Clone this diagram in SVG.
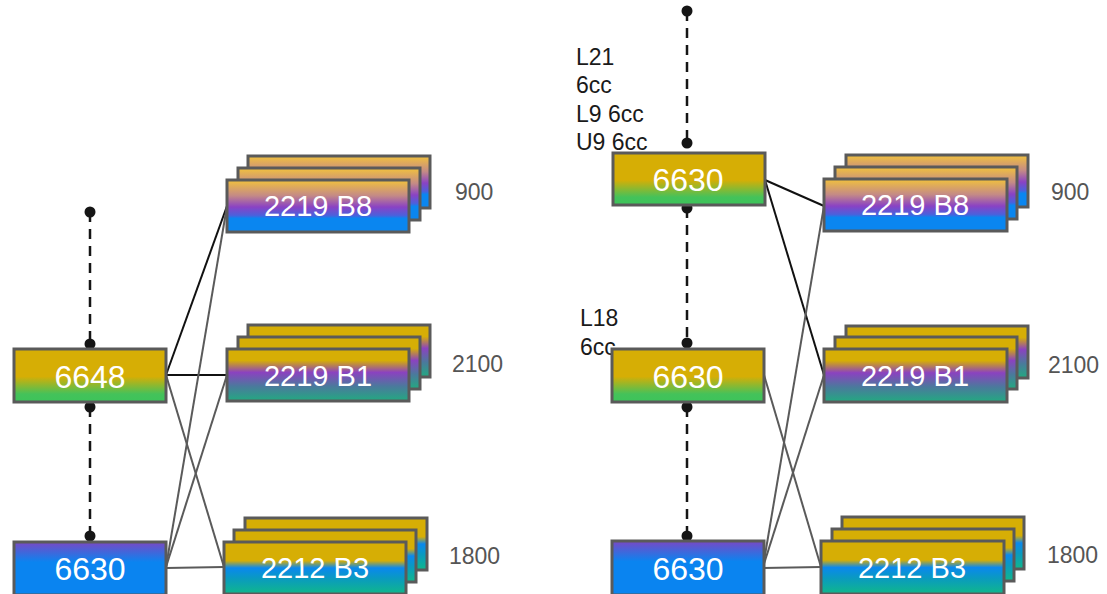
<svg xmlns="http://www.w3.org/2000/svg" width="1107" height="594" viewBox="0 0 1107 594">
<style>
.box{stroke:#5a5a5a;stroke-width:3}
.big{font-family:"Liberation Sans",Arial,sans-serif;font-size:32px;fill:#fff;text-anchor:middle}
.lbl{font-family:"Liberation Sans",Arial,sans-serif;font-size:29px;fill:#fff;text-anchor:middle}
.side{font-family:"Liberation Sans",Arial,sans-serif;font-size:23px;fill:#555}
.note{font-family:"Liberation Sans",Arial,sans-serif;font-size:23px;fill:#1a1a1a}
.dash{stroke:#151515;stroke-width:2.5;stroke-dasharray:10 7;fill:none}
.dot{fill:#151515}
.k{stroke:#111;stroke-width:2;fill:none}
.g{stroke:#5a5a5a;stroke-width:2;fill:none}
</style>
<defs>
<linearGradient id="gGold" x1="0" y1="0" x2="0" y2="1">
<stop offset="0" stop-color="#d6ae05"/><stop offset="0.52" stop-color="#d6ae05"/><stop offset="0.85" stop-color="#44c25a"/><stop offset="1" stop-color="#3cc45a"/>
</linearGradient>
<linearGradient id="gPurple" x1="0" y1="0" x2="0" y2="1">
<stop offset="0" stop-color="#7a48c4"/><stop offset="0.38" stop-color="#0a84f0"/><stop offset="1" stop-color="#0a84f0"/>
</linearGradient>
<linearGradient id="gB8" x1="0" y1="0" x2="0" y2="1">
<stop offset="0" stop-color="#f2c23c"/><stop offset="0.3" stop-color="#c48a86"/><stop offset="0.52" stop-color="#8a42c4"/><stop offset="0.68" stop-color="#4c60dc"/><stop offset="0.74" stop-color="#0a86f0"/><stop offset="1" stop-color="#0a86f0"/>
</linearGradient>
<linearGradient id="gB1" x1="0" y1="0" x2="0" y2="1">
<stop offset="0" stop-color="#d6ae05"/><stop offset="0.22" stop-color="#d6ae05"/><stop offset="0.45" stop-color="#8b42c0"/><stop offset="0.72" stop-color="#4a7a9c"/><stop offset="1" stop-color="#22aa80"/>
</linearGradient>
<linearGradient id="gB3" x1="0" y1="0" x2="0" y2="1">
<stop offset="0" stop-color="#d6ae05"/><stop offset="0.36" stop-color="#d6ae05"/><stop offset="0.5" stop-color="#0a88ee"/><stop offset="0.7" stop-color="#0a9ac0"/><stop offset="1" stop-color="#10b88a"/>
</linearGradient>
</defs>
<rect width="1107" height="594" fill="#fff"/>

<g id="notes">
<text class="note" x="576" y="65">L21</text>
<text class="note" x="576" y="93">6cc</text>
<text class="note" x="576" y="122">L9 6cc</text>
<text class="note" x="576" y="150">U9 6cc</text>
<text class="note" x="580" y="326">L18</text>
<text class="note" x="580" y="355">6cc</text>
</g>

<g id="connectors">
<line class="dash" x1="90" y1="212" x2="90" y2="344"/>
<circle class="dot" cx="90" cy="212" r="5.5"/><circle class="dot" cx="90" cy="344" r="5.5"/>
<line class="dash" x1="90" y1="407" x2="90" y2="536"/>
<circle class="dot" cx="90" cy="407" r="5.5"/><circle class="dot" cx="90" cy="536" r="5.5"/>
<line class="dash" x1="687" y1="11" x2="687" y2="143"/>
<circle class="dot" cx="687" cy="11" r="5.5"/><circle class="dot" cx="687" cy="143" r="5.5"/>
<line class="dash" x1="687" y1="208" x2="687" y2="343"/>
<circle class="dot" cx="687" cy="208" r="5.5"/><circle class="dot" cx="687" cy="343" r="5.5"/>
<line class="dash" x1="687" y1="407" x2="687" y2="536"/>
<circle class="dot" cx="687" cy="407" r="5.5"/><circle class="dot" cx="687" cy="536" r="5.5"/>

<line class="k" x1="166" y1="375" x2="227" y2="206"/>
<line class="k" x1="166" y1="375" x2="227" y2="375"/>
<line class="g" x1="166" y1="375" x2="224" y2="567"/>
<line class="g" x1="166" y1="567" x2="227" y2="206"/>
<line class="g" x1="166" y1="567" x2="227" y2="375"/>
<line class="g" x1="166" y1="568" x2="224" y2="567"/>

<line class="k" x1="765" y1="180" x2="824" y2="206"/>
<line class="k" x1="765" y1="180" x2="824" y2="375"/>
<line class="g" x1="764" y1="375" x2="821" y2="567"/>
<line class="g" x1="763" y1="567" x2="824" y2="206"/>
<line class="g" x1="763" y1="567" x2="824" y2="375"/>
<line class="g" x1="763" y1="568" x2="821" y2="567"/>
</g>

<g id="n6648">
<rect class="box" x="14" y="349" width="152" height="53" fill="url(#gGold)"/>
<text class="big" x="90" y="388">6648</text>
</g>
<g id="n6630L">
<rect class="box" x="14" y="542" width="152" height="53" fill="url(#gPurple)"/>
<text class="big" x="90" y="580">6630</text>
</g>

<g id="nB8L">
<rect class="box" x="248" y="156" width="182" height="52" fill="url(#gB8)"/>
<rect class="box" x="238" y="168" width="182" height="52" fill="url(#gB8)"/>
<rect class="box" x="227" y="180" width="182" height="52" fill="url(#gB8)"/>
<text class="lbl" x="318" y="216">2219 B8</text>
<text class="side" x="455" y="200">900</text>
</g>
<g id="nB1L">
<rect class="box" x="248" y="325" width="182" height="52" fill="url(#gB1)"/>
<rect class="box" x="238" y="337" width="182" height="52" fill="url(#gB1)"/>
<rect class="box" x="227" y="349" width="182" height="52" fill="url(#gB1)"/>
<text class="lbl" x="318" y="386">2219 B1</text>
<text class="side" x="452" y="372">2100</text>
</g>
<g id="nB3L">
<rect class="box" x="245" y="518" width="182" height="52" fill="url(#gB3)"/>
<rect class="box" x="234" y="530" width="182" height="52" fill="url(#gB3)"/>
<rect class="box" x="224" y="542" width="182" height="52" fill="url(#gB3)"/>
<text class="lbl" x="315" y="578">2212 B3</text>
<text class="side" x="449" y="564">1800</text>
</g>

<g id="n6630T">
<rect class="box" x="613" y="153" width="152" height="52" fill="url(#gGold)"/>
<text class="big" x="688" y="191">6630</text>
</g>
<g id="n6630M">
<rect class="box" x="612" y="349" width="152" height="53" fill="url(#gGold)"/>
<text class="big" x="688" y="388">6630</text>
</g>
<g id="n6630B">
<rect class="box" x="612" y="541" width="152" height="54" fill="url(#gPurple)"/>
<text class="big" x="688" y="580">6630</text>
</g>

<g id="nB8R">
<rect class="box" x="846" y="155" width="182" height="52" fill="url(#gB8)"/>
<rect class="box" x="835" y="167" width="182" height="52" fill="url(#gB8)"/>
<rect class="box" x="824" y="179" width="183" height="52" fill="url(#gB8)"/>
<text class="lbl" x="915" y="215">2219 B8</text>
<text class="side" x="1051" y="200">900</text>
</g>
<g id="nB1R">
<rect class="box" x="846" y="326" width="182" height="52" fill="url(#gB1)"/>
<rect class="box" x="835" y="337" width="182" height="52" fill="url(#gB1)"/>
<rect class="box" x="824" y="349" width="183" height="53" fill="url(#gB1)"/>
<text class="lbl" x="915" y="386">2219 B1</text>
<text class="side" x="1048" y="373">2100</text>
</g>
<g id="nB3R">
<rect class="box" x="842" y="517" width="182" height="52" fill="url(#gB3)"/>
<rect class="box" x="832" y="529" width="182" height="52" fill="url(#gB3)"/>
<rect class="box" x="821" y="541" width="183" height="53" fill="url(#gB3)"/>
<text class="lbl" x="912" y="578">2212 B3</text>
<text class="side" x="1047" y="563">1800</text>
</g>
</svg>
